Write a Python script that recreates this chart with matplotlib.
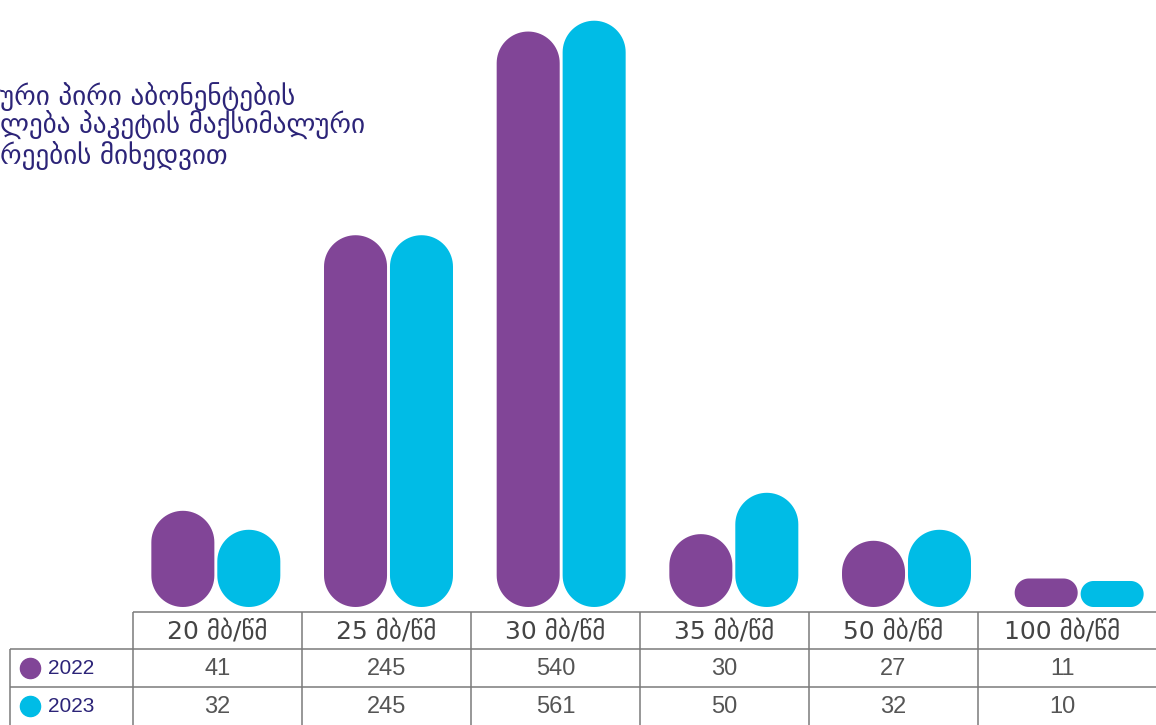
import numpy as np
import matplotlib
matplotlib.use("Agg")
import matplotlib.pyplot as plt
from matplotlib.patches import Polygon
from matplotlib.transforms import IdentityTransform

# data
categories = ["20 მბ/წმ", "25 მბ/წმ", "30 მბ/წმ", "35 მბ/წმ", "50 მბ/წმ", "100 მბ/წმ"]
years = ["2022", "2023"]
values_2022 = [41, 245, 540, 30, 27, 11]
values_2023 = [32, 245, 561, 50, 32, 10]
title_lines = ["ური პირი აბონენტების", "ლება პაკეტის მაქსიმალური", "რეების მიხედვით"]

PURPLE = "#814597"
CYAN = "#00bce6"
NAVY = "#2c2478"
GRID = "#7a7a7a"
TXT = "#555555"

W, H = 1156, 725
fig = plt.figure(figsize=(W / 100, H / 100), dpi=100)


def rect(x0, y0, x1, y1):
    # pixel box (top-left origin) -> figure fraction
    return [x0 / W, 1 - y1 / H, (x1 - x0) / W, (y1 - y0) / H]


def pill(x0, y0, x1, y1):
    # rounded box outline (display px), corner radius = half the short side
    r = min(x1 - x0, y1 - y0) / 2
    t = np.linspace(0, np.pi / 2, 20)
    pts = []
    for cx, cy, a0 in ((x1 - r, y1 - r, 0), (x0 + r, y1 - r, np.pi / 2),
                       (x0 + r, y0 + r, np.pi), (x1 - r, y0 + r, 1.5 * np.pi)):
        pts += list(zip(cx + r * np.cos(t + a0), cy + r * np.sin(t + a0)))
    return np.array(pts)


# bars
ax = fig.add_axes(rect(129.5, 0, 129.5 + 1036, 607))
ax.set_xlim(-0.5, 5.5)
# the source squeezes the tall bars, so a log-like scale
ax.set_yscale("function", functions=(lambda v: np.log1p(np.maximum(v, 0) / 130),
                                      lambda y: 130 * np.expm1(y)))
ax.set_ylim(0, 603)
ax.axis("off")

bw = 0.365
for i, (a, b) in enumerate(zip(values_2022, values_2023)):
    for val, off, color in ((a, -0.191, PURPLE), (b, 0.191, CYAN)):
        x0, y0 = ax.transData.transform((i + off - bw / 2, 0))
        x1, y1 = ax.transData.transform((i + off + bw / 2, val))
        fig.add_artist(Polygon(pill(x0, y0, x1, y1), closed=True, fc=color, ec="none",
                               transform=IdentityTransform()))

# table
col_w = 169
tax = fig.add_axes(rect(133, 611.5, 133 + 6 * col_w, 725))
tax.set_xlim(0, 6)
tax.set_ylim(0, 3)
tax.axis("off")
x_right = (W - 133) / col_w
x_left = (10 - 133) / col_w
lk = dict(color=GRID, lw=1.1, clip_on=False, solid_capstyle="butt")
tax.plot([0, x_right], [3, 3], **lk)
tax.plot([x_left, x_right], [2, 2], **lk)
tax.plot([x_left, x_right], [1, 1], **lk)
tax.plot([x_left, x_left], [0, 2], **lk)
for k in range(6):
    tax.plot([k, k], [0, 3], **lk)

for i, cat in enumerate(categories):
    tax.text(i + 0.5, 2.47, cat, ha="center", va="center", fontsize=18,
             color="#444444", family=["DejaVu Sans"])
    tax.text(i + 0.5, 1.47, str(values_2022[i]), ha="center", va="center",
             fontsize=17, color=TXT, family=["Liberation Sans", "DejaVu Sans"])
    tax.text(i + 0.5, 0.47, str(values_2023[i]), ha="center", va="center",
             fontsize=17, color=TXT, family=["Liberation Sans", "DejaVu Sans"])

for yr, yy, color in ((years[0], 1.5, PURPLE), (years[1], 0.5, CYAN)):
    tax.plot([(30 - 133) / col_w], [yy], "o", ms=14.5, color=color, clip_on=False)
    tax.text((48 - 133) / col_w, yy, yr, ha="left", va="center", fontsize=15,
             color=NAVY, family=["Liberation Sans", "DejaVu Sans"])

for line, base in zip(title_lines, (105, 134, 164)):
    fig.text(0, 1 - base / H, line, ha="left", va="baseline",
             fontsize=19.5, color=NAVY, family=["DejaVu Sans"])

fig.savefig("out.png", dpi=100)
